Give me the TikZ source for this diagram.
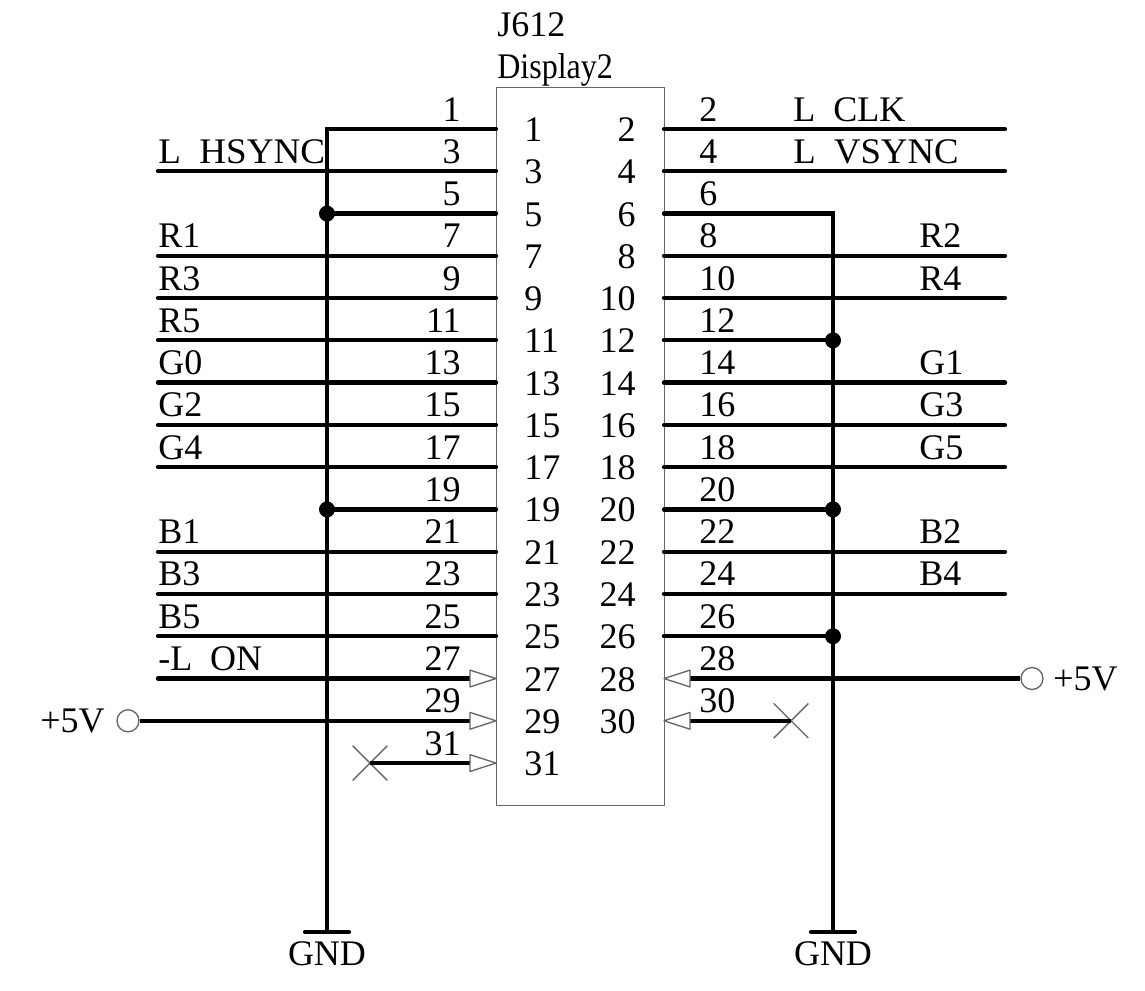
\documentclass[tikz,border=0pt]{standalone}
\usepackage{fontspec}
\setmainfont{Liberation Serif}
\newcommand{\lowus}{\raisebox{-3pt}{\_}}
\begin{document}
\begin{tikzpicture}[x=0.75pt,y=-0.75pt,
  wire/.style={line width=3.2pt,line cap=round,black},
  thin line/.style={line width=1pt,draw=black!60},
  txt/.style={inner sep=0pt,font=\fontsize{27}{27}\selectfont},
  outerL/.style={txt,anchor=base east},
  outerR/.style={txt,anchor=base west},
  innerL/.style={txt,anchor=base west},
  innerR/.style={txt,anchor=base east},
  sig/.style={txt,anchor=base west},
  dot/.style={circle,fill=black,inner sep=0pt,minimum size=12pt},
  tri/.style={thin line,fill=white,line join=round},
  ring/.style={circle,thin line,fill=white,inner sep=0pt,minimum size=16.5pt}]
\useasboundingbox (0,0) rectangle (1145,990);
\fill[white] (0,0) rectangle (1145,990);
\newcommand{\rowy}[1]{129+42.27*(#1-1)/2}
\newcommand{\rowr}[1]{129+42.27*(#1-2)/2}
% connector body
\node[draw=black!60,line width=1pt,minimum width=126pt,minimum height=538.5pt,inner sep=0pt,anchor=north west] (body) at (496,87) {};
\node[txt,anchor=base west] (ref) at (497,36.5) {J612};
\node[txt,anchor=base west] (val) at (497,78.5) {\scalebox{0.89}[1]{Display2}};
% pins
\foreach \n in {1,3,...,31}{
  \coordinate (L\n) at (496,{\rowy{\n}});
  \coordinate (W\n) at (158,{\rowy{\n}});
  \coordinate (A\n) at (470,{\rowy{\n}});
  \coordinate (BL\n) at (327,{\rowy{\n}});
  \node[innerL] (iL\n) at (524,{\rowy{\n}+12.5}) {\n};
  \node[outerL] (oL\n) at (461,{\rowy{\n}-8}) {\n};
}
\foreach \n in {2,4,...,30}{
  \coordinate (R\n) at (664,{\rowr{\n}});
  \coordinate (E\n) at (1005,{\rowr{\n}});
  \coordinate (A\n) at (690,{\rowr{\n}});
  \coordinate (BR\n) at (833,{\rowr{\n}});
  \node[innerR] (iR\n) at (636,{\rowr{\n}+12.5}) {\n};
  \node[outerR] (oR\n) at (699,{\rowr{\n}-8}) {\n};
}
% GND symbols
\coordinate (gl) at (327,932);
\coordinate (gr) at (833,932);
\node[txt,anchor=base] (gndL) at (327,965.5) {GND};
\node[txt,anchor=base] (gndR) at (833,965.5) {GND};
\draw[wire] (L1) -- (BL1) -- (gl);
\draw[wire] ([xshift=-16.5pt]gl) -- ([xshift=16.5pt]gl);
\draw[wire] (R6) -- (BR6) -- (gr);
\draw[wire] ([xshift=-16.5pt]gr) -- ([xshift=16.5pt]gr);
% left wires
\foreach \n in {3,7,9,11,13,15,17,21,23,25}{\draw[wire] (W\n) -- (L\n);}
\draw[wire] (W27) -- (A27);
\foreach \n in {5,19}{\draw[wire] (BL\n) -- (L\n); \node[dot] (dL\n) at (BL\n) {};}
% right wires
\foreach \n in {2,4,8,10,14,16,18,22,24}{\draw[wire] (R\n) -- (E\n);}
\foreach \n in {12,20,26}{\draw[wire] (R\n) -- (BR\n); \node[dot] (dR\n) at (BR\n) {};}
% +5V and unconnected
\node[ring] (vL) at (128,{\rowy{29}}) {};
\node[ring] (vR) at (1032,{\rowr{28}}) {};
\draw[wire,line cap=butt] (vL) -- (A29);
\draw[wire,line cap=butt] (A28) -- (vR);
\coordinate (xL) at (370,{\rowy{31}});
\coordinate (xR) at (791,{\rowr{30}});
\foreach \c in {xL,xR}{
  \draw[thin line] ([shift={(-13pt,-13pt)}]\c) -- ([shift={(13pt,13pt)}]\c);
  \draw[thin line] ([shift={(-13pt,13pt)}]\c) -- ([shift={(13pt,-13pt)}]\c);
}
\draw[wire,line cap=butt] (xL) -- (A31);
\draw[wire,line cap=butt] (A30) -- (xR);
% arrowheads
\foreach \n in {27,29,31}{\draw[tri] (L\n) -- ([yshift=6.3pt]A\n) -- ([yshift=-6.3pt]A\n) -- cycle;}
\foreach \n in {28,30}{\draw[tri] (R\n) -- ([yshift=6.3pt]A\n) -- ([yshift=-6.3pt]A\n) -- cycle;}
% signal names, left
\node[sig] (sH) at (158,163.5) {\scalebox{1.03}[1]{L\lowus HSYNC}};
\foreach \n/\t in {7/R1,9/R3,11/R5,13/G0,15/G2,17/G4,21/B1,23/B3,25/B5,27/-L\lowus ON}{
  \node[sig] (s\n) at (158,{\rowy{\n}-8}) {\t};
}
% signal names, right
\node[sig] (s2) at (793,121) {L\lowus CLK};
\node[sig] (s4) at (793,163.5) {\scalebox{1.02}[1]{L\lowus VSYNC}};
\foreach \n/\t in {8/R2,10/R4,14/G1,16/G3,18/G5,22/B2,24/B4}{
  \node[sig] (s\n) at (919,{\rowr{\n}-8}) {\t};
}
\node[txt,anchor=base east] (pL) at (105,732) {+5V};
\node[txt,anchor=base west] (pR) at (1053,690) {+5V};
\end{tikzpicture}
\end{document}
